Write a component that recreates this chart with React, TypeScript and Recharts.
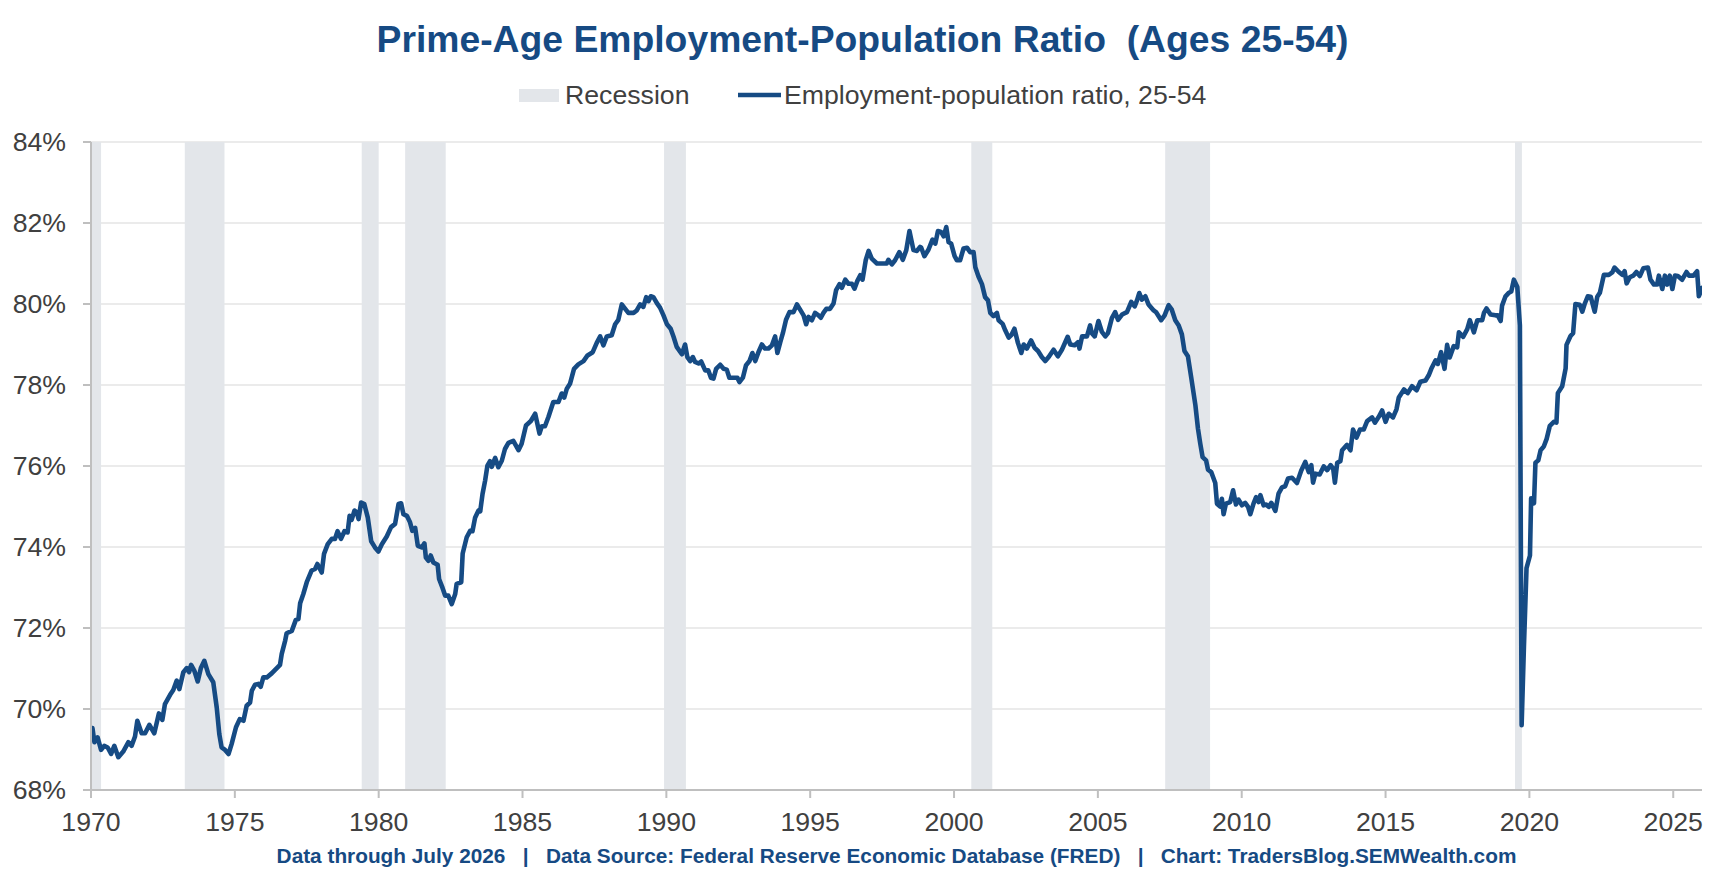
import React from "react";
import {
  ComposedChart,
  Line,
  XAxis,
  YAxis,
  CartesianGrid,
  ReferenceArea,
} from "recharts";

// ---- Text ----
const TITLE = "Prime-Age Employment-Population Ratio  (Ages 25-54)";
const LEGEND_RECESSION = "Recession";
const LEGEND_SERIES = "Employment-population ratio, 25-54";
const FOOTER =
  "Data through July 2026   |   Data Source: Federal Reserve Economic Database (FRED)   |   Chart: TradersBlog.SEMWealth.com";

// ---- Axis ticks ----
const X_TICKS = [1970, 1975, 1980, 1985, 1990, 1995, 2000, 2005, 2010, 2015, 2020, 2025];
const Y_TICKS = [68, 70, 72, 74, 76, 78, 80, 82, 84];

// ---- Recession bands (start, end in plotted years) ----
const RECESSION_START = [1970.0, 1973.26, 1979.41, 1980.92, 1989.92, 2000.6, 2007.34, 2019.5];
const RECESSION_END = [1970.35, 1974.64, 1980.0, 1982.33, 1990.68, 2001.33, 2008.9, 2019.74];

// ---- Series: employment-population ratio, 25-54 (%) ----
const YEARS_1970S = [
  1970.05, 1970.12, 1970.23, 1970.35, 1970.46, 1970.58, 1970.7, 1970.81, 1970.95, 1971.12,
  1971.3, 1971.41, 1971.53, 1971.61, 1971.76, 1971.88, 1972.03, 1972.2, 1972.36, 1972.48,
  1972.57, 1972.75, 1972.86, 1972.98, 1973.07, 1973.21, 1973.33, 1973.41, 1973.48, 1973.59,
  1973.71, 1973.82, 1973.94, 1974.08, 1974.25, 1974.37, 1974.46, 1974.54, 1974.66, 1974.78,
  1974.89, 1975.04, 1975.17, 1975.3, 1975.41, 1975.53, 1975.59, 1975.7, 1975.82, 1975.9,
  1975.99, 1976.11, 1976.28, 1976.46, 1976.57, 1976.63, 1976.75, 1976.8, 1976.98, 1977.12,
  1977.21, 1977.27, 1977.38, 1977.5, 1977.67, 1977.79, 1977.87, 1978.02, 1978.1, 1978.23,
  1978.37, 1978.48, 1978.57, 1978.69, 1978.81, 1978.92, 1978.99, 1979.06, 1979.16, 1979.24,
  1979.3, 1979.39, 1979.5, 1979.62, 1979.74, 1979.87, 1979.99,
];
const VALUES_1970S = [
  69.53, 69.18, 69.3, 68.99, 69.09, 69.05, 68.89, 69.09, 68.81, 68.95,
  69.18, 69.09, 69.32, 69.71, 69.4, 69.4, 69.61, 69.4, 69.89, 69.73,
  70.12, 70.35, 70.47, 70.7, 70.49, 70.91, 71.01, 70.91, 71.09, 70.95,
  70.68, 71.01, 71.19, 70.86, 70.66, 70.04, 69.38, 69.05, 68.99, 68.89,
  69.14, 69.55, 69.75, 69.71, 70.08, 70.16, 70.45, 70.6, 70.62, 70.55,
  70.78, 70.78, 70.88, 71.01, 71.09, 71.36, 71.69, 71.87, 71.93, 72.2,
  72.22, 72.61, 72.84, 73.13, 73.42, 73.46, 73.58, 73.37, 73.83, 74.07,
  74.2, 74.2, 74.39, 74.2, 74.39, 74.36, 74.77, 74.67, 74.9, 74.86,
  74.69, 75.1, 75.06, 74.73, 74.14, 73.99, 73.89,
];

const YEARS_1980S = [
  1980.11, 1980.28, 1980.43, 1980.57, 1980.69, 1980.78, 1980.86, 1980.98, 1981.09, 1981.17,
  1981.27, 1981.36, 1981.5, 1981.59, 1981.64, 1981.73, 1981.81, 1981.9, 1982.05, 1982.1,
  1982.22, 1982.31, 1982.42, 1982.54, 1982.66, 1982.71, 1982.87, 1982.92, 1983.06, 1983.18,
  1983.26, 1983.35, 1983.47, 1983.53, 1983.61, 1983.7, 1983.78, 1983.87, 1983.93, 1984.05,
  1984.16, 1984.28, 1984.39, 1984.51, 1984.68, 1984.86, 1984.97, 1985.12, 1985.29, 1985.44,
  1985.59, 1985.67, 1985.78, 1985.9, 1986.07, 1986.25, 1986.36, 1986.45, 1986.54, 1986.65,
  1986.79, 1986.94, 1987.12, 1987.26, 1987.44, 1987.58, 1987.7, 1987.81, 1987.93, 1988.1,
  1988.22, 1988.33, 1988.45, 1988.57, 1988.68, 1988.86, 1988.97, 1989.09, 1989.2, 1989.3,
  1989.38, 1989.46, 1989.55, 1989.67, 1989.78, 1989.9,
];
const VALUES_1980S = [
  74.07, 74.26, 74.49, 74.57, 75.06, 75.08, 74.81, 74.77, 74.61, 74.4,
  74.47, 74.03, 73.99, 74.09, 73.74, 73.66, 73.79, 73.62, 73.56, 73.21,
  72.99, 72.8, 72.8, 72.59, 72.84, 73.09, 73.13, 73.84, 74.24, 74.4,
  74.39, 74.72, 74.9, 74.88, 75.31, 75.64, 76.01, 76.12, 75.98, 76.2,
  75.97, 76.13, 76.42, 76.57, 76.62, 76.39, 76.55, 77.0, 77.11, 77.29,
  76.8, 76.98, 76.98, 77.21, 77.58, 77.58, 77.79, 77.69, 77.91, 78.03,
  78.4, 78.51, 78.59, 78.73, 78.81, 79.04, 79.2, 78.98, 79.2, 79.23,
  79.5, 79.61, 79.99, 79.88, 79.78, 79.78, 79.84, 79.99, 79.93, 80.17,
  80.07, 80.19, 80.17, 80.02, 79.91, 79.72,
];

const YEARS_1990S = [
  1990.02, 1990.15, 1990.25, 1990.36, 1990.54, 1990.65, 1990.73, 1990.83, 1990.92, 1991.0,
  1991.12, 1991.21, 1991.35, 1991.46, 1991.55, 1991.64, 1991.73, 1991.87, 1991.99, 1992.1,
  1992.19, 1992.33, 1992.47, 1992.54, 1992.66, 1992.77, 1992.89, 1992.99, 1993.09, 1993.2,
  1993.32, 1993.43, 1993.55, 1993.67, 1993.78, 1993.86, 1993.96, 1994.05, 1994.16, 1994.28,
  1994.42, 1994.54, 1994.65, 1994.77, 1994.86, 1994.94, 1995.06, 1995.17, 1995.29, 1995.37,
  1995.46, 1995.56, 1995.69, 1995.81, 1995.9, 1996.02, 1996.1, 1996.22, 1996.33, 1996.45,
  1996.54, 1996.64, 1996.74, 1996.82, 1996.93, 1997.03, 1997.14, 1997.32, 1997.49, 1997.66,
  1997.72, 1997.84, 1997.95, 1998.1, 1998.22, 1998.34, 1998.45, 1998.59, 1998.71, 1998.82,
  1998.86, 1998.97, 1999.11, 1999.25, 1999.35, 1999.44, 1999.55, 1999.64, 1999.73, 1999.81,
  1999.9,
];
const VALUES_1990S = [
  79.5, 79.39, 79.19, 78.94, 78.76, 79.0, 78.69, 78.59, 78.69, 78.57,
  78.53, 78.58, 78.36, 78.36, 78.18, 78.16, 78.4, 78.5, 78.4, 78.38,
  78.18, 78.18, 78.18, 78.07, 78.18, 78.49, 78.59, 78.79, 78.59, 78.81,
  79.0, 78.9, 78.9, 78.98, 79.2, 78.79, 79.06, 79.28, 79.61, 79.8,
  79.8, 79.99, 79.86, 79.72, 79.5, 79.68, 79.6, 79.78, 79.72, 79.66,
  79.78, 79.88, 79.88, 80.01, 80.34, 80.49, 80.4, 80.6, 80.5, 80.5,
  80.38, 80.57, 80.71, 80.6, 81.08, 81.31, 81.12, 81.0, 81.0, 81.0,
  81.09, 80.98, 81.08, 81.28, 81.09, 81.33, 81.8, 81.33, 81.31, 81.41,
  81.39, 81.18, 81.34, 81.59, 81.49, 81.8, 81.78, 81.67, 81.9, 81.53,
  81.49,
];

const YEARS_2000S = [
  2000.02, 2000.1, 2000.21, 2000.33, 2000.45, 2000.56, 2000.68, 2000.74, 2000.85, 2000.97,
  2001.08, 2001.18, 2001.26, 2001.37, 2001.49, 2001.55, 2001.69, 2001.78, 2001.9, 2001.99,
  2002.1, 2002.22, 2002.34, 2002.42, 2002.53, 2002.68, 2002.8, 2002.92, 2003.05, 2003.17,
  2003.29, 2003.46, 2003.61, 2003.75, 2003.95, 2004.04, 2004.19, 2004.31, 2004.36, 2004.45,
  2004.62, 2004.73, 2004.79, 2004.89, 2005.02, 2005.14, 2005.26, 2005.35, 2005.49, 2005.6,
  2005.7, 2005.84, 2006.01, 2006.16, 2006.28, 2006.36, 2006.44, 2006.53, 2006.65, 2006.76,
  2006.94, 2007.02, 2007.2, 2007.32, 2007.46, 2007.57, 2007.69, 2007.81, 2007.92, 2008.01,
  2008.13, 2008.25, 2008.39, 2008.48, 2008.56, 2008.64, 2008.76, 2008.83, 2008.94, 2009.08,
  2009.14, 2009.25, 2009.31, 2009.37, 2009.45, 2009.6, 2009.7, 2009.8, 2009.89,
];
const VALUES_2000S = [
  81.18, 81.08, 81.08, 81.37, 81.39, 81.28, 81.28, 80.91, 80.68, 80.49,
  80.17, 80.09, 79.78, 79.7, 79.78, 79.6, 79.51, 79.35, 79.17, 79.23,
  79.39, 79.04, 78.79, 79.0, 78.9, 79.1, 78.92, 78.84, 78.69, 78.59,
  78.69, 78.87, 78.71, 78.87, 79.19, 79.0, 78.98, 79.06, 78.9, 79.2,
  79.2, 79.47, 79.28, 79.2, 79.58, 79.31, 79.2, 79.28, 79.66, 79.8,
  79.61, 79.74, 79.8, 80.05, 79.94, 80.09, 80.27, 80.11, 80.19, 79.99,
  79.84, 79.8, 79.6, 79.72, 79.97, 79.86, 79.6, 79.47, 79.25, 78.84,
  78.71, 78.16, 77.5, 76.92, 76.55, 76.22, 76.14, 75.91, 75.85, 75.58,
  75.07, 75.0, 75.19, 74.81, 75.07, 75.11, 75.4, 75.05, 75.17,
];

const YEARS_2010S = [
  2010.01, 2010.12, 2010.22, 2010.3, 2010.41, 2010.5, 2010.59, 2010.65, 2010.76, 2010.85,
  2010.94, 2011.03, 2011.17, 2011.28, 2011.4, 2011.51, 2011.61, 2011.75, 2011.92, 2012.07,
  2012.21, 2012.33, 2012.42, 2012.48, 2012.56, 2012.71, 2012.85, 2012.97, 2013.09, 2013.18,
  2013.24, 2013.32, 2013.43, 2013.49, 2013.66, 2013.78, 2013.87, 2013.99, 2014.11, 2014.24,
  2014.36, 2014.53, 2014.63, 2014.77, 2014.88, 2015.0, 2015.11, 2015.26, 2015.38, 2015.46,
  2015.64, 2015.77, 2015.92, 2016.08, 2016.21, 2016.39, 2016.5, 2016.59, 2016.74, 2016.82,
  2016.93, 2017.05, 2017.14, 2017.23, 2017.37, 2017.49, 2017.55, 2017.7, 2017.84, 2017.93,
  2018.07, 2018.19, 2018.36, 2018.42, 2018.51, 2018.65, 2018.82, 2018.9, 2019.0, 2019.05,
  2019.17, 2019.29, 2019.37, 2019.46, 2019.58, 2019.67, 2019.73, 2019.81, 2019.9,
];
const VALUES_2010S = [
  75.03, 75.09, 74.99, 74.81, 75.07, 75.23, 75.11, 75.28, 75.03, 75.05,
  74.99, 75.09, 74.89, 75.32, 75.47, 75.5, 75.69, 75.71, 75.58, 75.89,
  76.1, 75.85, 76.02, 75.59, 75.81, 75.79, 75.99, 75.9, 76.02, 75.93,
  75.59, 76.08, 76.12, 76.39, 76.52, 76.39, 76.9, 76.7, 76.9, 76.9,
  77.11, 77.2, 77.07, 77.22, 77.37, 77.09, 77.29, 77.2, 77.4, 77.69,
  77.89, 77.8, 77.97, 77.87, 78.08, 78.11, 78.24, 78.4, 78.61, 78.52,
  78.81, 78.4, 78.99, 78.68, 78.96, 78.93, 79.3, 79.19, 79.38, 79.6,
  79.3, 79.6, 79.6, 79.78, 79.89, 79.74, 79.72, 79.72, 79.58, 79.96,
  80.19, 80.28, 80.31, 80.6, 80.42, 79.47, 69.6, 71.54, 73.48,
];

const YEARS_2020S = [
  2020.02, 2020.06, 2020.16, 2020.21, 2020.31, 2020.39, 2020.5, 2020.6, 2020.71, 2020.85,
  2020.94, 2020.99, 2021.14, 2021.26, 2021.29, 2021.43, 2021.52, 2021.6, 2021.75, 2021.84,
  2021.92, 2022.03, 2022.13, 2022.27, 2022.36, 2022.45, 2022.59, 2022.76, 2022.88, 2022.96,
  2023.11, 2023.23, 2023.31, 2023.38, 2023.49, 2023.61, 2023.72, 2023.84, 2023.96, 2024.12,
  2024.21, 2024.33, 2024.44, 2024.5, 2024.62, 2024.71, 2024.79, 2024.88, 2024.97, 2025.06,
  2025.16, 2025.31, 2025.46, 2025.55, 2025.7, 2025.83, 2025.89, 2026.0,
];
const VALUES_2020S = [
  73.79, 75.2, 75.08, 76.08, 76.14, 76.39, 76.48, 76.67, 76.99, 77.09,
  77.07, 77.8, 77.97, 78.41, 78.99, 79.21, 79.28, 80.0, 79.98, 79.81,
  80.0, 80.19, 80.18, 79.81, 80.18, 80.28, 80.72, 80.72, 80.78, 80.9,
  80.79, 80.72, 80.81, 80.51, 80.66, 80.7, 80.79, 80.69, 80.88, 80.9,
  80.6, 80.48, 80.48, 80.7, 80.37, 80.7, 80.48, 80.7, 80.37, 80.7,
  80.69, 80.6, 80.79, 80.7, 80.7, 80.81, 80.19, 80.4,
];

// ---- Build table for the library ----
const ALL_YEARS = [
  ...YEARS_1970S, ...YEARS_1980S, ...YEARS_1990S, ...YEARS_2000S, ...YEARS_2010S, ...YEARS_2020S,
];
const ALL_VALUES = [
  ...VALUES_1970S, ...VALUES_1980S, ...VALUES_1990S, ...VALUES_2000S, ...VALUES_2010S, ...VALUES_2020S,
];
const data = ALL_YEARS.map((year, i) => ({ year, epop: ALL_VALUES[i] }));
const recessions = RECESSION_START.map((s, i) => ({ s, e: RECESSION_END[i] }));

// ---- Styles ----
const FONT = "'Liberation Sans', Arial, Helvetica, sans-serif";
const BLUE = "#164a83";
const LINE_BLUE = "#164b84";
const REC_FILL = "#e3e6ea";
const AXIS_GRAY = "#bfbfbf";
const GRID = "#e5e5e5";
const TEXT_GRAY = "#404040";

const W = 1725;
const H = 892;

export default function App() {
  return (
    <div
      style={{
        position: "absolute",
        left: 0,
        top: 0,
        width: W,
        height: H,
        background: "#ffffff",
        overflow: "hidden",
        fontFamily: FONT,
      }}
    >
      <ComposedChart
        width={W}
        height={H}
        data={data}
        margin={{ top: 142, right: 23, bottom: 62, left: 11 }}
      >
        <CartesianGrid vertical={false} stroke={GRID} strokeWidth={1.5} />
        {recessions.map((r, i) => (
          <ReferenceArea
            key={i}
            x1={r.s}
            x2={r.e}
            y1={68}
            y2={84}
            fill={REC_FILL}
            fillOpacity={1}
            stroke="none"
            ifOverflow="hidden"
          />
        ))}
        <XAxis
          dataKey="year"
          type="number"
          domain={[1970, 2026]}
          ticks={X_TICKS}
          allowDataOverflow
          height={40}
          axisLine={{ stroke: AXIS_GRAY, strokeWidth: 2 }}
          tickLine={{ stroke: AXIS_GRAY, strokeWidth: 2 }}
          tickSize={8}
          tickMargin={14}
          tick={{ fill: TEXT_GRAY, fontSize: 26.67, fontFamily: FONT }}
          interval={0}
        />
        <YAxis
          type="number"
          domain={[68, 84]}
          ticks={Y_TICKS}
          allowDataOverflow
          width={80}
          tickFormatter={(v) => `${v}%`}
          axisLine={{ stroke: AXIS_GRAY, strokeWidth: 2 }}
          tickLine={{ stroke: AXIS_GRAY, strokeWidth: 2 }}
          tickSize={8}
          tickMargin={17}
          tick={{ fill: TEXT_GRAY, fontSize: 26.67, fontFamily: FONT }}
          interval={0}
        />
        <Line
          type="linear"
          dataKey="epop"
          stroke={LINE_BLUE}
          strokeWidth={4.6}
          dot={false}
          activeDot={false}
          strokeLinejoin="round"
          strokeLinecap="round"
          isAnimationActive={false}
        />
      </ComposedChart>

      <svg
        width={W}
        height={H}
        style={{ position: "absolute", left: 0, top: 0, pointerEvents: "none" }}
      >
        <text
          x={862.5}
          y={52}
          textAnchor="middle"
          fontSize={37.3}
          fontWeight="bold"
          fill={BLUE}
          fontFamily={FONT}
          style={{ whiteSpace: "pre" }}
        >
          {TITLE}
        </text>

        <rect x={519} y={89} width={40} height={13} fill={REC_FILL} />
        <text x={565} y={104} fontSize={26.67} fill={TEXT_GRAY} fontFamily={FONT}>
          {LEGEND_RECESSION}
        </text>
        <line x1={738} x2={781} y1={95} y2={95} stroke={LINE_BLUE} strokeWidth={4.6} />
        <text x={784} y={104} fontSize={26.67} fill={TEXT_GRAY} fontFamily={FONT}>
          {LEGEND_SERIES}
        </text>

        <text
          x={896.5}
          y={863}
          textAnchor="middle"
          fontSize={20.8}
          fontWeight="bold"
          fill={BLUE}
          fontFamily={FONT}
          style={{ whiteSpace: "pre" }}
        >
          {FOOTER}
        </text>
      </svg>
    </div>
  );
}
